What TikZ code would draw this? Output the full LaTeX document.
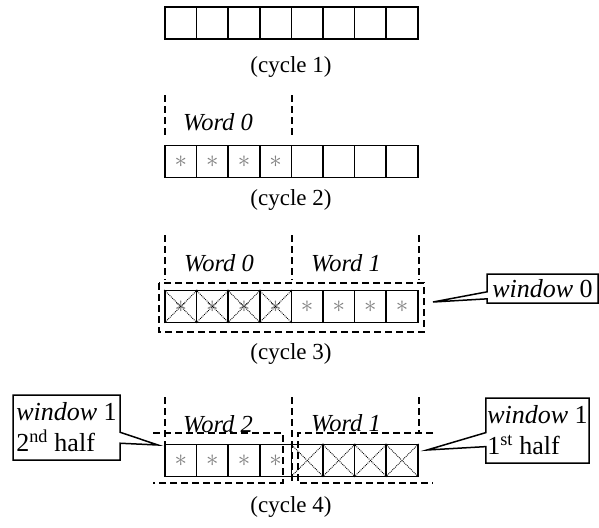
\documentclass[tikz,border=0pt]{standalone}
\usepackage{fontspec}
\setmainfont{Liberation Serif}
\usetikzlibrary{shapes.callouts}

\begin{document}
\begin{tikzpicture}[x=1pt,y=-1pt,
	cell/.style={draw,line width=1.5pt,minimum size=31.6pt,inner sep=0pt},
	lbl/.style={font=\fontsize{23}{26}\selectfont},
	wrd/.style={font=\fontsize{24.5}{26}\selectfont\itshape},
	star/.style={text=gray,font=\fontsize{28}{28}\selectfont},
	divide/.style={line width=1.5pt,dash pattern=on 7pt off 4pt},
	cross/.style={densely dotted,line width=0.9pt},
	note/.style={rectangle callout,draw,line width=1.5pt,fill=white,align=left,inner sep=1.5pt,font=\fontsize{26}{31}\selectfont}]
	\useasboundingbox (0,0) rectangle (599,527);
	\pgfmathsetmacro{\w}{31.6}
	\foreach \r/\y in {1/23,2/161.5,3/306.5,4/460.5} {
		\foreach \i in {1,...,8} {
			\node[cell] (r\r-\i) at (165+\w*\i-\w/2,\y) {};
		}
	}
	\foreach \r/\b in {2/4,3/8,4/4} {
		\foreach \i in {1,...,\b} {
			\node[star] (s\r-\i) at (r\r-\i) {$\ast$};
		}
	}
	\foreach \r/\a/\b in {3/1/4,4/5/8} {
		\foreach \i in {\a,...,\b} {
			\draw[cross] (r\r-\i.north west) -- (r\r-\i.south east)
				(r\r-\i.north east) -- (r\r-\i.south west);
		}
	}
	\node[lbl] (cyc1) at (291,67) {(cycle 1)};
	\node[lbl] (cyc2) at (291,200) {(cycle 2)};
	\node[lbl] (cyc3) at (291,354) {(cycle 3)};
	\node[lbl] (cyc4) at (291,507) {(cycle 4)};

	\draw[divide] (165,95) -- (165,137) (292,95) -- (292,137);
	\node[wrd] (w2a) at (218,122) {Word 0};

	\draw[divide] (165,235) -- (165,280) (292,235) -- (292,280) (419,235) -- (419,280);
	\node[wrd] (w3a) at (219,263) {Word 0};
	\node[wrd] (w3b) at (346,263) {Word 1};
	\draw[divide] (159,283) rectangle (424,332);

	\draw[divide] (165,397) -- (165,445) (292,397) -- (292,483) (419,397) -- (419,433);
	\node[wrd] (w4a) at (218,424) {Word 2};
	\node[wrd] (w4b) at (346,423) {Word 1};
	\draw[divide] (153,433) -| (283,483) -- (153,483);
	\draw[divide] (433,433) -| (298,483) -- (433,483);

	\coordinate (tip0) at (433,302);
	\coordinate (tip2) at (158,445);
	\coordinate (tip1) at (427,450);
	\node[note,minimum width=111pt,minimum height=29pt,callout absolute pointer={(tip0)},callout pointer width=7pt] (win0) at (542.5,288.5) {\textit{window} 0};
	\node[note,minimum width=107pt,minimum height=65pt,callout absolute pointer={(tip2)},callout pointer width=11pt] (win1b) at (66.5,427.5) {\textit{window} 1\\2\textsuperscript{nd} half};
	\node[note,minimum width=101pt,minimum height=65pt,callout absolute pointer={(tip1)},callout pointer width=14pt] (win1a) at (537.5,430.5) {\textit{window} 1\\1\textsuperscript{st} half};
\end{tikzpicture}
\end{document}
